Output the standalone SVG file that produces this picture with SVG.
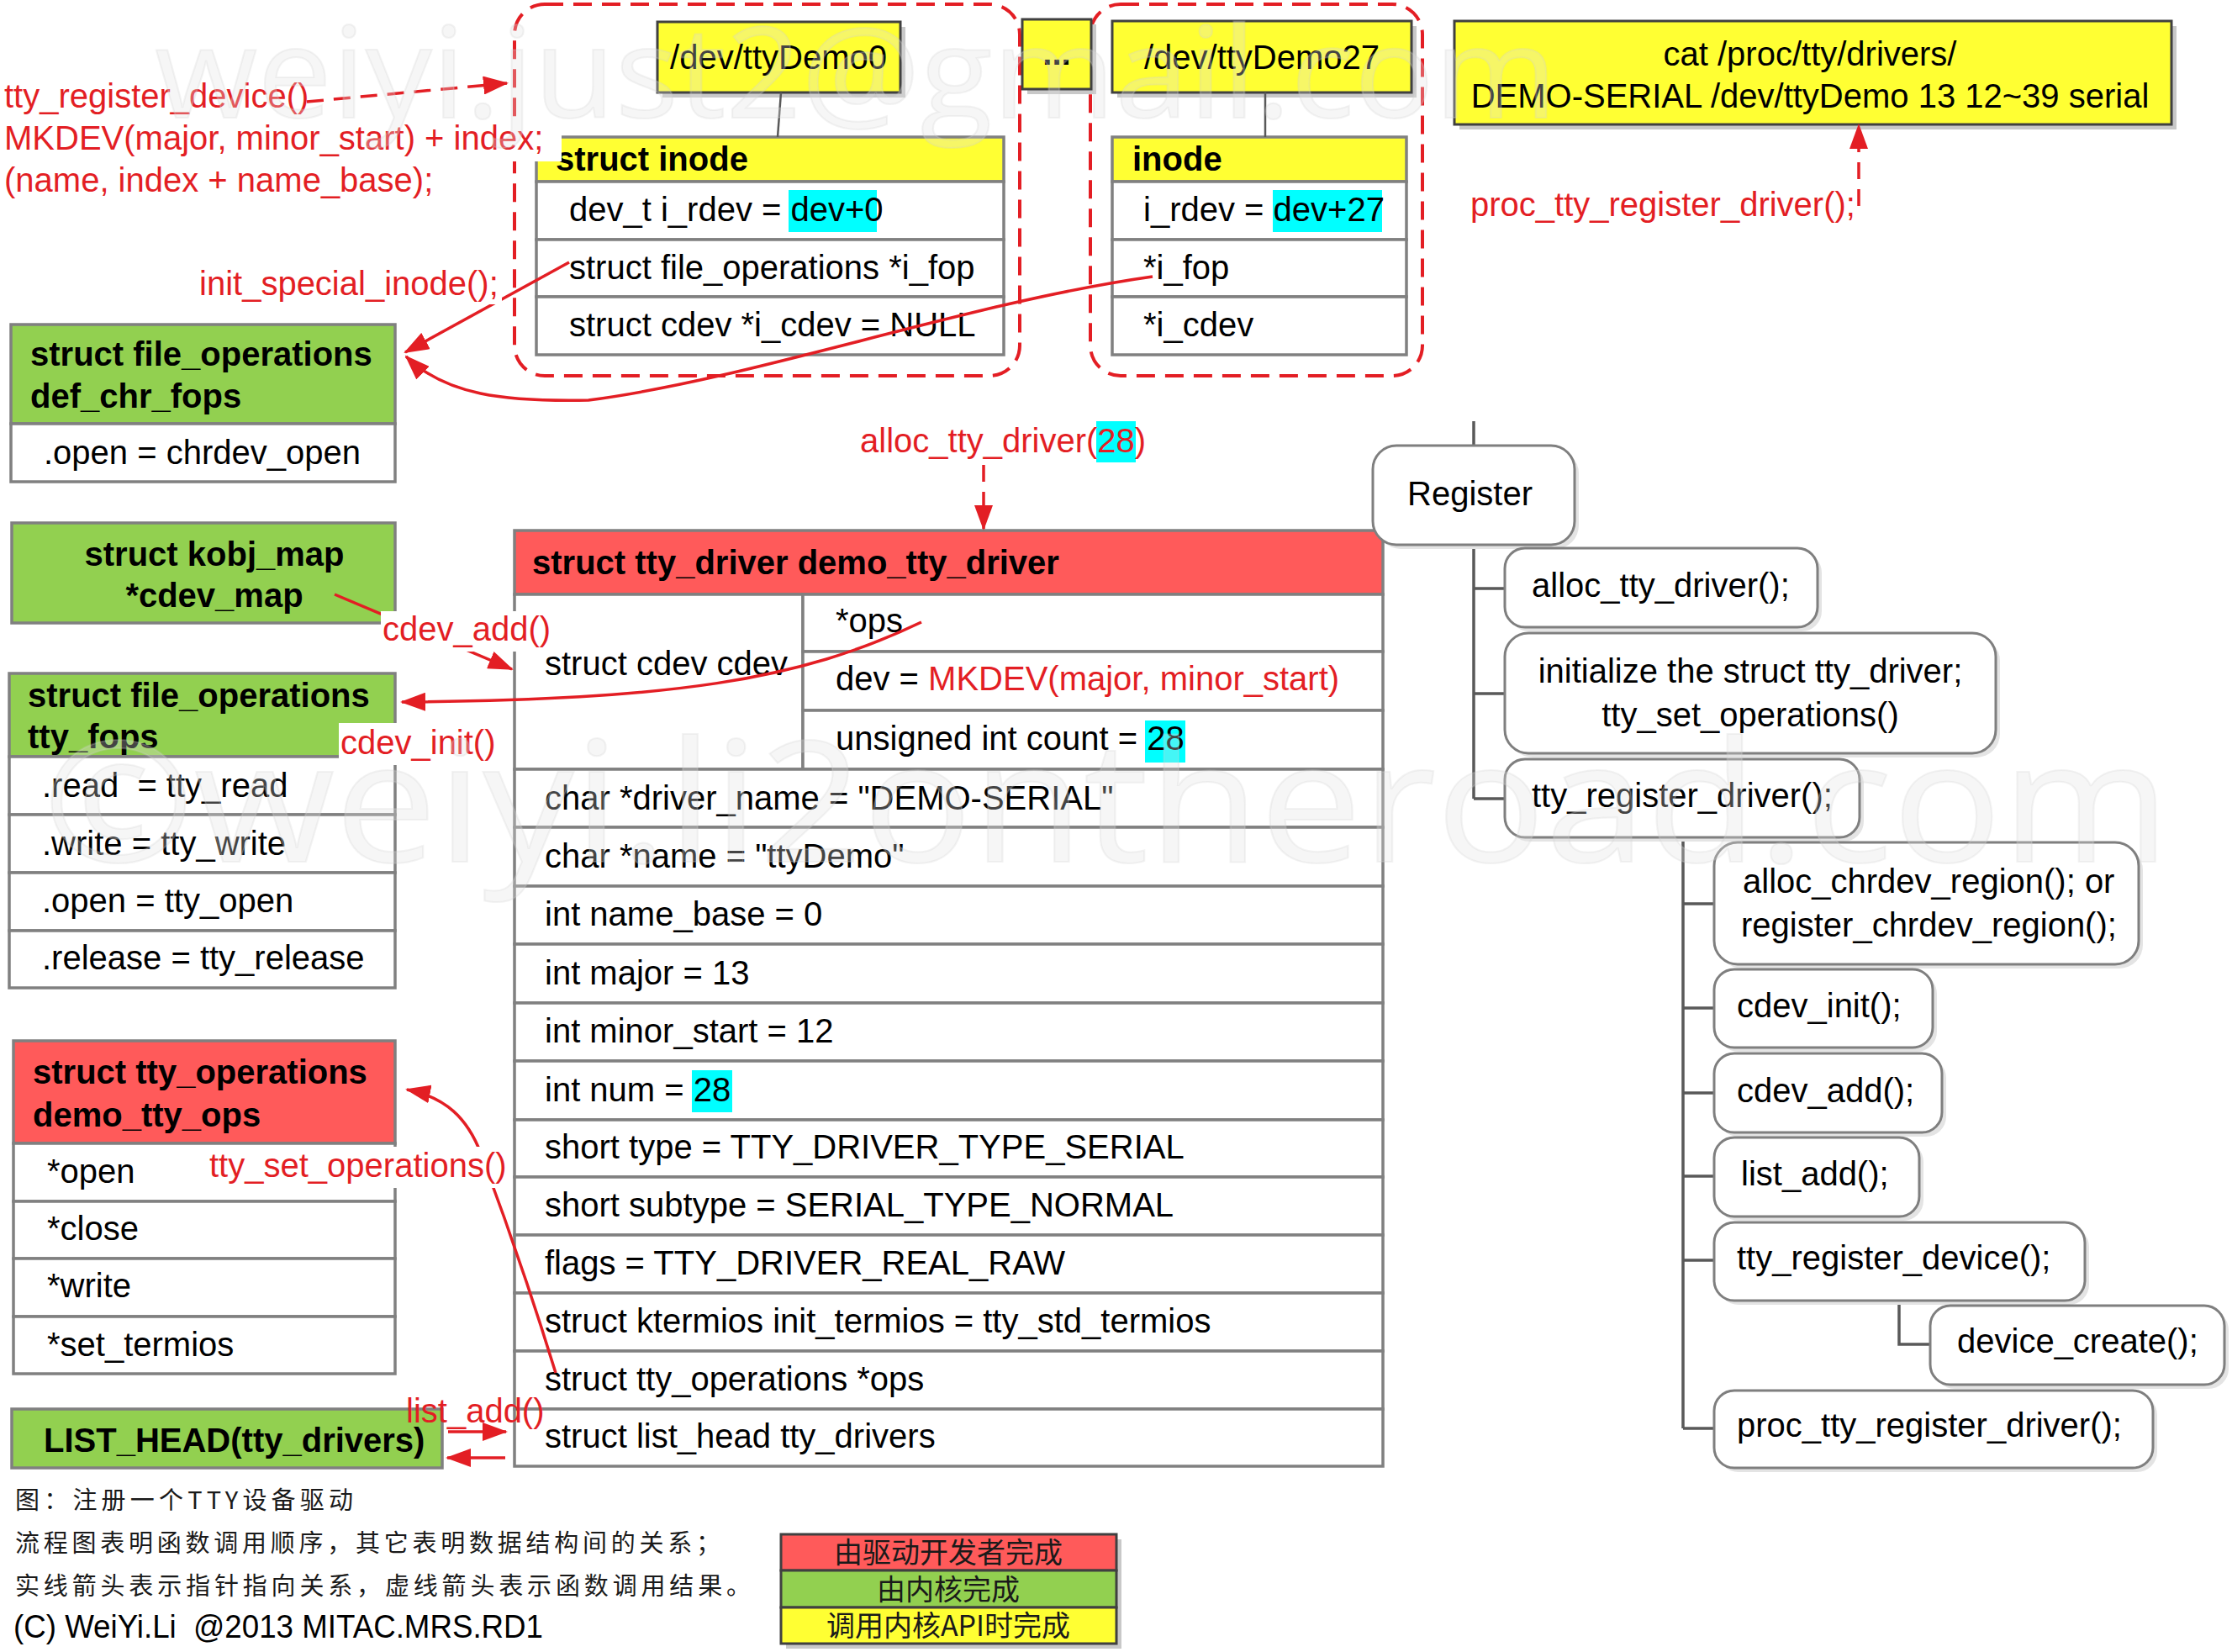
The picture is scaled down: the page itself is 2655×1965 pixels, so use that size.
<svg xmlns="http://www.w3.org/2000/svg" width="2655" height="1965" viewBox="0 0 2655 1965">
<style>
text{font-family:"Liberation Sans",Arial,sans-serif;font-size:40px;fill:#000}
.b{font-weight:bold}
.r{fill:#e31e24}
.c{text-anchor:middle}
.cell{fill:#fff;stroke:#808080;stroke-width:3.5}
.hy{fill:#ffff33;stroke:#808080;stroke-width:3.5}
.hg{fill:#92d050;stroke:#808080;stroke-width:3.5}
.hr{fill:#ff5a5a;stroke:#808080;stroke-width:3.5}
.yb{fill:#ffff33;stroke:#404040;stroke-width:3}
.sh{fill:#c8c8c8}
.rb{fill:#fff;stroke:#7f7f7f;stroke-width:3}
.rsh{fill:#e4e4e4}
.frame{fill:none;stroke:#e31e24;stroke-width:4;stroke-dasharray:22 12}
.arr{fill:none;stroke:#e31e24;stroke-width:3.5;marker-end:url(#ah)}
.darr{fill:none;stroke:#e31e24;stroke-width:3.5;stroke-dasharray:20 12;marker-end:url(#ah)}
.tree{fill:none;stroke:#595959;stroke-width:3.5}
.link{fill:none;stroke:#595959;stroke-width:2.5}
.bg{fill:#fff}
.hl{fill:#00ffff}
.key{font-family:"Noto Sans CJK SC",sans-serif;fill:#1a1a1a;font-size:34px}
.note{font-family:"Noto Sans CJK SC",sans-serif;fill:#1a1a1a;font-size:29px}
.sig{font-size:38px}
.wm1{font-family:"Open Sans",sans-serif;font-size:150px;fill:#e0e0e0;fill-opacity:.3;stroke:#cfcfcf;stroke-opacity:.25;stroke-width:2}
.wm2{font-family:"Open Sans",sans-serif;font-size:200px;fill:#e0e0e0;fill-opacity:.3;stroke:#cfcfcf;stroke-opacity:.25;stroke-width:2}
</style>
<defs>
<marker id="ah" viewBox="0 0 30 22" refX="28" refY="11" markerWidth="30" markerHeight="22" markerUnits="userSpaceOnUse" orient="auto">
<path d="M0,0 L30,11 L0,22 z" fill="#e31e24"/>
</marker>
</defs>
<rect width="2655" height="1965" fill="#fff"/>

<!-- dashed frames grouping device nodes with their inodes -->
<g id="frame-dev0"><rect class="frame" x="612" y="5" width="601" height="442" rx="36"/></g>
<g id="frame-dev27"><rect class="frame" x="1297" y="5" width="395" height="442" rx="36"/></g>

<!-- device nodes -->
<g id="dev-ttyDemo0">
<rect class="sh" x="788" y="32" width="289" height="84"/>
<rect class="yb" x="782" y="26" width="289" height="84"/>
<text class="c" x="926" y="82">/dev/ttyDemo0</text>
</g>
<g id="dev-more">
<rect class="sh" x="1222" y="29" width="82" height="83"/>
<rect class="yb" x="1216" y="23" width="82" height="83"/>
<text class="c b" x="1257" y="77">...</text>
</g>
<g id="dev-ttyDemo27">
<rect class="sh" x="1329" y="31" width="356" height="85"/>
<rect class="yb" x="1323" y="25" width="356" height="85"/>
<text class="c" x="1501" y="82">/dev/ttyDemo27</text>
</g>
<g id="proc-drivers">
<rect class="sh" x="1736" y="31" width="853" height="123"/>
<rect class="yb" x="1730" y="25" width="853" height="123"/>
<text class="c" x="2153" y="78">cat /proc/tty/drivers/</text>
<text class="c" x="2153" y="128">DEMO-SERIAL /dev/ttyDemo 13 12~39 serial</text>
</g>

<!-- struct inode of ttyDemo0 -->
<g id="inode0">
<rect class="hy" x="638" y="163" width="556" height="53"/>
<rect class="cell" x="638" y="216" width="556" height="69"/>
<rect class="cell" x="638" y="285" width="556" height="68"/>
<rect class="cell" x="638" y="353" width="556" height="69"/>
<text class="b" x="661" y="203">struct inode</text>
<rect class="hl" x="938" y="226" width="105" height="50"/>
<text x="677" y="263">dev_t i_rdev = dev+0</text>
<text x="677" y="332">struct file_operations *i_fop</text>
<text x="677" y="400">struct cdev *i_cdev = NULL</text>
</g>

<!-- inode of ttyDemo27 -->
<g id="inode27">
<rect class="hy" x="1323" y="163" width="350" height="53"/>
<rect class="cell" x="1323" y="216" width="350" height="69"/>
<rect class="cell" x="1323" y="285" width="350" height="68"/>
<rect class="cell" x="1323" y="353" width="350" height="69"/>
<text class="b" x="1347" y="203">inode</text>
<rect class="hl" x="1514" y="226" width="130" height="50"/>
<text x="1360" y="263">i_rdev = dev+27</text>
<text x="1360" y="332">*i_fop</text>
<text x="1360" y="400">*i_cdev</text>
</g>

<!-- kernel structures -->
<g id="def-chr-fops">
<rect class="hg" x="13" y="386" width="457" height="118"/>
<rect class="cell" x="13" y="504" width="457" height="69"/>
<text class="b" x="36" y="435">struct file_operations</text>
<text class="b" x="36" y="485">def_chr_fops</text>
<text x="52" y="552">.open = chrdev_open</text>
</g>
<g id="cdev-map">
<rect class="hg" x="14" y="622" width="456" height="119"/>
<text class="b c" x="255" y="673">struct kobj_map</text>
<text class="b c" x="255" y="722">*cdev_map</text>
</g>
<g id="tty-fops">
<rect class="hg" x="11" y="801" width="459" height="99"/>
<rect class="cell" x="11" y="900" width="459" height="69"/>
<rect class="cell" x="11" y="969" width="459" height="69"/>
<rect class="cell" x="11" y="1038" width="459" height="69"/>
<rect class="cell" x="11" y="1107" width="459" height="68"/>
<text class="b" x="33" y="841">struct file_operations</text>
<text class="b" x="33" y="890">tty_fops</text>
<text x="50" y="948" xml:space="preserve">.read  = tty_read</text>
<text x="50" y="1017">.write = tty_write</text>
<text x="50" y="1085">.open = tty_open</text>
<text x="50" y="1153">.release = tty_release</text>
</g>
<g id="demo-tty-ops">
<rect class="hr" x="16" y="1238" width="454" height="122"/>
<rect class="cell" x="16" y="1360" width="454" height="69"/>
<rect class="cell" x="16" y="1429" width="454" height="68"/>
<rect class="cell" x="16" y="1497" width="454" height="69"/>
<rect class="cell" x="16" y="1566" width="454" height="68"/>
<text class="b" x="39" y="1289">struct tty_operations</text>
<text class="b" x="39" y="1340">demo_tty_ops</text>
<text x="56" y="1407">*open</text>
<text x="56" y="1475">*close</text>
<text x="56" y="1543">*write</text>
<text x="56" y="1613">*set_termios</text>
</g>
<g id="tty-drivers-list">
<rect class="hg" x="14" y="1676" width="512" height="70"/>
<text class="b" x="52" y="1727">LIST_HEAD(tty_drivers)</text>
</g>

<!-- the driver structure -->
<g id="demo-tty-driver">
<rect class="hr" x="612" y="631" width="1033" height="76"/>
<rect class="cell" x="612" y="707" width="343" height="208"/>
<rect class="cell" x="955" y="707" width="690" height="68"/>
<rect class="cell" x="955" y="775" width="690" height="70"/>
<rect class="cell" x="955" y="845" width="690" height="70"/>
<rect class="cell" x="612" y="915" width="1033" height="69"/>
<rect class="cell" x="612" y="984" width="1033" height="70"/>
<rect class="cell" x="612" y="1054" width="1033" height="69"/>
<rect class="cell" x="612" y="1123" width="1033" height="70"/>
<rect class="cell" x="612" y="1193" width="1033" height="69"/>
<rect class="cell" x="612" y="1262" width="1033" height="70"/>
<rect class="cell" x="612" y="1332" width="1033" height="68"/>
<rect class="cell" x="612" y="1400" width="1033" height="69"/>
<rect class="cell" x="612" y="1469" width="1033" height="69"/>
<rect class="cell" x="612" y="1538" width="1033" height="69"/>
<rect class="cell" x="612" y="1607" width="1033" height="69"/>
<rect class="cell" x="612" y="1676" width="1033" height="68"/>
<text class="b" x="633" y="683">struct tty_driver demo_tty_driver</text>
<text x="648" y="803">struct cdev cdev</text>
<text x="994" y="752">*ops</text>
<text x="994" y="821">dev = <tspan class="r">MKDEV(major, minor_start)</tspan></text>
<rect class="hl" x="1362" y="857" width="48" height="50"/>
<text x="994" y="892">unsigned int count = 28</text>
<text x="648" y="963">char *driver_name = "DEMO-SERIAL"</text>
<text x="648" y="1032">char *name = "ttyDemo"</text>
<text x="648" y="1101">int name_base = 0</text>
<text x="648" y="1171">int major = 13</text>
<text x="648" y="1240">int minor_start = 12</text>
<rect class="hl" x="823" y="1273" width="48" height="50"/>
<text x="648" y="1310">int num = 28</text>
<text x="648" y="1378">short type = TTY_DRIVER_TYPE_SERIAL</text>
<text x="648" y="1447">short subtype = SERIAL_TYPE_NORMAL</text>
<text x="648" y="1516">flags = TTY_DRIVER_REAL_RAW</text>
<text x="648" y="1585">struct ktermios init_termios = tty_std_termios</text>
<text x="648" y="1654">struct tty_operations *ops</text>
<text x="648" y="1722">struct list_head tty_drivers</text>
</g>

<!-- registration call tree -->
<g id="tree-lines">
<path class="tree" d="M1753,501 V530 M1753,648 V950 M1753,700 H1790 M1753,825 H1790 M1753,950 H1790"/>
<path class="tree" d="M2002,996 V1699 M2002,1075 H2039 M2002,1199 H2039 M2002,1300 H2039 M2002,1399 H2039 M2002,1499 H2039 M2002,1699 H2039 M2259,1547 V1599 H2296"/>
</g>
<g id="register">
<rect class="rsh" x="1638" y="535" width="240" height="118" rx="28"/>
<rect class="rb" x="1633" y="530" width="240" height="118" rx="28"/>
<text x="1674" y="601">Register</text>
</g>
<g id="call-alloc-tty-driver">
<rect class="rsh" x="1795" y="657" width="372" height="94" rx="24"/>
<rect class="rb" x="1790" y="652" width="372" height="94" rx="24"/>
<text x="1822" y="710">alloc_tty_driver();</text>
</g>
<g id="call-init-driver">
<rect class="rsh" x="1795" y="758" width="584" height="143" rx="28"/>
<rect class="rb" x="1790" y="753" width="584" height="143" rx="28"/>
<text class="c" x="2082" y="812">initialize the struct tty_driver;</text>
<text class="c" x="2082" y="864">tty_set_operations()</text>
</g>
<g id="call-tty-register-driver">
<rect class="rsh" x="1795" y="908" width="422" height="93" rx="24"/>
<rect class="rb" x="1790" y="903" width="422" height="93" rx="24"/>
<text x="1822" y="960">tty_register_driver();</text>
</g>
<g id="call-chrdev-region">
<rect class="rsh" x="2044" y="1007" width="505" height="145" rx="28"/>
<rect class="rb" x="2039" y="1002" width="505" height="145" rx="28"/>
<text x="2073" y="1062">alloc_chrdev_region(); or</text>
<text x="2071" y="1114">register_chrdev_region();</text>
</g>
<g id="call-cdev-init">
<rect class="rsh" x="2044" y="1158" width="260" height="93" rx="24"/>
<rect class="rb" x="2039" y="1153" width="260" height="93" rx="24"/>
<text x="2066" y="1210">cdev_init();</text>
</g>
<g id="call-cdev-add">
<rect class="rsh" x="2044" y="1258" width="271" height="94" rx="24"/>
<rect class="rb" x="2039" y="1253" width="271" height="94" rx="24"/>
<text x="2066" y="1311">cdev_add();</text>
</g>
<g id="call-list-add">
<rect class="rsh" x="2044" y="1358" width="244" height="94" rx="24"/>
<rect class="rb" x="2039" y="1353" width="244" height="94" rx="24"/>
<text x="2071" y="1410">list_add();</text>
</g>
<g id="call-tty-register-device">
<rect class="rsh" x="2044" y="1459" width="441" height="93" rx="24"/>
<rect class="rb" x="2039" y="1454" width="441" height="93" rx="24"/>
<text x="2066" y="1510">tty_register_device();</text>
</g>
<g id="call-device-create">
<rect class="rsh" x="2301" y="1558" width="350" height="94" rx="24"/>
<rect class="rb" x="2296" y="1553" width="350" height="94" rx="24"/>
<text x="2328" y="1609">device_create();</text>
</g>
<g id="call-proc-register">
<rect class="rsh" x="2044" y="1659" width="522" height="92" rx="24"/>
<rect class="rb" x="2039" y="1654" width="522" height="92" rx="24"/>
<text x="2066" y="1709">proc_tty_register_driver();</text>
</g>

<!-- pointers and call results -->
<g id="connectors">
<path class="link" d="M929,110 L925,163"/>
<path class="link" d="M1505,110 L1505,163"/>
<path class="darr" d="M365,121 L603,99"/>
<path class="arr" d="M677,312 L482,419"/>
<path class="arr" d="M1371,329 C1150,360 900,450 700,476 C600,478 530,470 483,424"/>
<path class="darr" d="M1170,553 L1170,629"/>
<path class="darr" d="M2211,245 L2211,149"/>
<path class="arr" d="M398,707 L609,796"/>
<path class="arr" d="M1096,740 C950,810 800,832 478,835"/>
<path class="arr" d="M661,1633 C620,1500 590,1420 572,1372 C556,1330 530,1305 484,1296"/>
<path class="arr" d="M533,1703 L602,1703"/>
<path class="arr" d="M601,1734 L532,1734"/>
</g>

<!-- call labels -->
<g id="labels">
<text class="r" x="5" y="128">tty_register_device()</text>
<rect class="bg" x="0" y="146" width="668" height="46"/>
<text class="r" x="5" y="178">MKDEV(major, minor_start) + index;</text>
<text class="r" x="5" y="228">(name, index + name_base);</text>
<rect class="bg" x="235" y="316" width="362" height="46"/>
<text class="r" x="237" y="351">init_special_inode();</text>
<rect class="bg" x="1021" y="503" width="342" height="48"/>
<rect class="hl" x="1304" y="501" width="47" height="49"/>
<text class="r" x="1023" y="538">alloc_tty_driver(28)</text>
<text class="r" x="1749" y="257">proc_tty_register_driver();</text>
<rect class="bg" x="453" y="727" width="199" height="48"/>
<text class="r" x="455" y="762">cdev_add()</text>
<rect class="bg" x="403" y="860" width="187" height="50"/>
<text class="r" x="405" y="897">cdev_init()</text>
<rect class="bg" x="247" y="1364" width="361" height="49"/>
<text class="r" x="249" y="1400">tty_set_operations()</text>
<text class="r" x="483" y="1692">list_add()</text>
</g>

<!-- colour key -->
<g id="legend">
<rect class="sh" x="935" y="1831" width="399" height="130"/>
<rect x="929" y="1825" width="399" height="43" fill="#ff5a5a" stroke="#404040" stroke-width="3"/>
<rect x="929" y="1868" width="399" height="44" fill="#92d050" stroke="#404040" stroke-width="3"/>
<rect x="929" y="1912" width="399" height="43" fill="#ffff33" stroke="#404040" stroke-width="3"/>
<text class="key c" x="1128" y="1859">由驱动开发者完成</text>
<text class="key c" x="1128" y="1903">由内核完成</text>
<text class="key c" x="1128" y="1946">调用内核API时完成</text>
</g>

<!-- caption -->
<g id="caption">
<text class="note" x="18" y="1795" textLength="402">图：注册一个TTY设备驱动</text>
<text class="note" x="18" y="1846" textLength="839">流程图表明函数调用顺序，其它表明数据结构间的关系；</text>
<text class="note" x="18" y="1897" textLength="875">实线箭头表示指针指向关系，虚线箭头表示函数调用结果。</text>
<text class="sig" x="16" y="1948" textLength="630" lengthAdjust="spacingAndGlyphs" xml:space="preserve">(C) WeiYi.Li  @2013 MITAC.MRS.RD1</text>
</g>

<!-- faint watermark -->
<g id="watermark">
<text class="wm1" x="184" y="140" textLength="1668" lengthAdjust="spacingAndGlyphs">weiyi.just2@gmail.com</text>
<text class="wm2" x="51" y="1025" textLength="2530" lengthAdjust="spacingAndGlyphs">©weiyi.li2ontheroad.com</text>
</g>
</svg>
